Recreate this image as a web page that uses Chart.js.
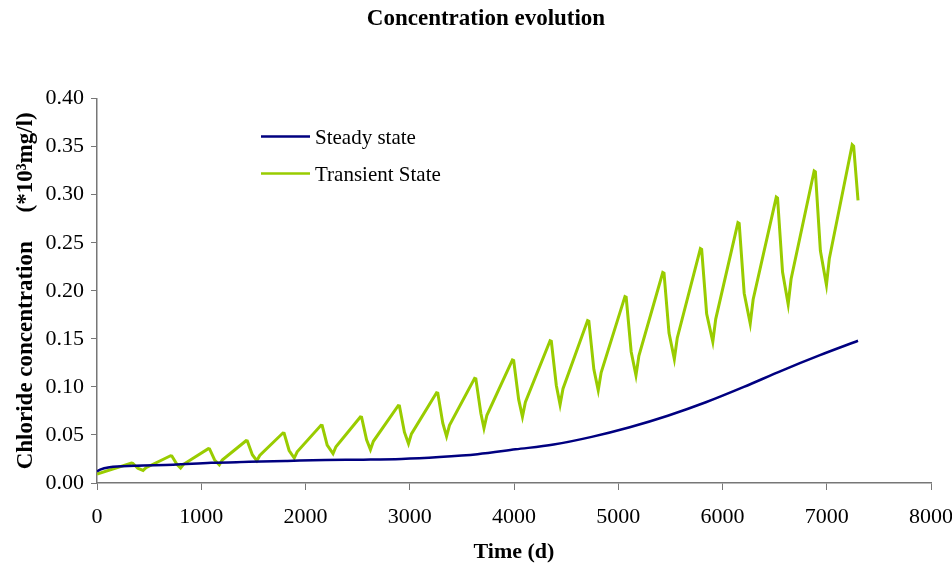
<!DOCTYPE html>
<html>
<head>
<meta charset="utf-8">
<script src="https://cdn.jsdelivr.net/npm/chart.js@4.4.0/dist/chart.umd.min.js"></script>
<style>
  html, body { margin: 0; padding: 0; background: #fff; }
  #wrap { width: 952px; height: 573px; }
</style>
</head>
<body>
<div id="wrap"><canvas id="myChart" width="952" height="573"></canvas></div>
<script>
/****************
--- DATA ---
*****************/

const seriesNames = ["Steady state", "Transient State"];
const xTicks = [0, 1000, 2000, 3000, 4000, 5000, 6000, 7000, 8000];
const yTicks = [0, 0.05, 0.1, 0.15, 0.2, 0.25, 0.3, 0.35, 0.4];

// steady state (day, value)
const steadyDays = [0, 30, 120, 365, 730, 1095, 1460, 1825, 2190, 2555, 2920, 3285, 3650, 4015, 4380, 4745, 5110, 5475, 5840, 6205, 6570, 6935, 7300];
const steadyVals = [0.012, 0.014, 0.0165, 0.018, 0.019, 0.021, 0.022, 0.023, 0.024, 0.0243, 0.025, 0.027, 0.030, 0.035, 0.040, 0.048, 0.058, 0.070, 0.084, 0.100, 0.117, 0.133, 0.148];

// transient state (day, value) - yearly cycles
const transientDays = [
  0, 331, 343, 391, 442, 470,
  706, 718, 766, 802, 830,
  1068, 1080, 1128, 1173, 1201,
  1430, 1442, 1490, 1533, 1561,
  1783, 1795, 1843, 1892, 1920,
  2148, 2160, 2208, 2264, 2292,
  2526, 2538, 2586, 2623, 2651,
  2889, 2901, 2949, 2988, 3016,
  3257, 3269, 3317, 3353, 3381,
  3622, 3634, 3682, 3712, 3740,
  3985, 3997, 4045, 4081, 4109,
  4346, 4358, 4406, 4442, 4470,
  4706, 4718, 4766, 4808, 4836,
  5064, 5076, 5124, 5170, 5198,
  5427, 5439, 5487, 5538, 5566,
  5788, 5800, 5848, 5907, 5935,
  6148, 6160, 6208, 6266, 6294,
  6516, 6528, 6576, 6630, 6658,
  6879, 6891, 6939, 6997, 7025,
  7244, 7258, 7300
];
const transientVals = [
  0.0094, 0.0208, 0.0205, 0.0154, 0.0131, 0.0160,
  0.0284, 0.0281, 0.0194, 0.0156, 0.0194,
  0.0357, 0.0354, 0.0240, 0.0190, 0.0238,
  0.0440, 0.0437, 0.0294, 0.0232, 0.0287,
  0.0520, 0.0517, 0.0338, 0.0260, 0.0325,
  0.0600, 0.0597, 0.0394, 0.0305, 0.0378,
  0.0687, 0.0684, 0.0449, 0.0347, 0.0434,
  0.0805, 0.0801, 0.0529, 0.0410, 0.0511,
  0.0940, 0.0936, 0.0622, 0.0486, 0.0601,
  0.1090, 0.1085, 0.0726, 0.0570, 0.0705,
  0.1280, 0.1275, 0.0867, 0.0690, 0.0840,
  0.1480, 0.1474, 0.1015, 0.0816, 0.0982,
  0.1690, 0.1684, 0.1183, 0.0965, 0.1150,
  0.1940, 0.1933, 0.1366, 0.1120, 0.1323,
  0.2190, 0.2183, 0.1560, 0.1290, 0.1509,
  0.2440, 0.2432, 0.1761, 0.1470, 0.1706,
  0.2710, 0.2702, 0.1975, 0.1660, 0.1910,
  0.2975, 0.2966, 0.2195, 0.1860, 0.2123,
  0.3246, 0.3237, 0.2416, 0.2060, 0.2337,
  0.3520, 0.3505, 0.2940
];

const colors = ["#000080", "#99cc00"];
const serif = "'Liberation Serif', 'Times New Roman', serif";

const toPoints = (xs, ys) => xs.map((x, i) => ({ x: x, y: ys[i] }));

/****************
--- LEGEND ---
*****************/

// legend drawn inside the plot, like the original
const innerLegend = {
  id: "innerLegend",
  afterDraw(chart) {
    const { ctx, chartArea } = chart;
    const x0 = chartArea.left + 164;
    const rows = [chartArea.top + 38, chartArea.top + 75];
    ctx.save();
    ctx.font = "21px " + serif;
    ctx.textBaseline = "middle";
    ctx.fillStyle = "#000";
    seriesNames.forEach((name, i) => {
      ctx.strokeStyle = colors[i];
      ctx.lineWidth = 2.5;
      ctx.beginPath();
      ctx.moveTo(x0, rows[i]);
      ctx.lineTo(x0 + 49, rows[i]);
      ctx.stroke();
      ctx.fillText(name, x0 + 54, rows[i] + 2);
    });
    ctx.restore();
  },
};

/****************
--- CHART ---
*****************/

const ctx = document.getElementById("myChart").getContext("2d");
const myChart = new Chart(ctx, {
  type: "line",
  data: {
    datasets: [
      {
        label: seriesNames[0],
        data: toPoints(steadyDays, steadyVals),
        borderColor: colors[0],
        borderWidth: 2.5,
        pointRadius: 0,
        tension: 0.4,
        cubicInterpolationMode: "monotone",
      },
      {
        label: seriesNames[1],
        data: toPoints(transientDays, transientVals),
        borderColor: colors[1],
        borderWidth: 3,
        pointRadius: 0,
        tension: 0,
      },
    ],
  },
  options: {
    responsive: false,
    animation: false,
    layout: { padding: { left: 20, right: 0, top: 0, bottom: 0 } },
    plugins: {
      legend: { display: false },
      tooltip: { enabled: false },
      title: {
        display: true,
        text: "Concentration evolution",
        color: "#000",
        font: { family: serif, size: 23, weight: "bold" },
        padding: { top: 5, bottom: 66 },
      },
    },
    scales: {
      x: {
        type: "linear",
        min: 0,
        max: 8000,
        afterBuildTicks: (scale) => {
          scale.ticks = xTicks.map((v) => ({ value: v }));
        },
        afterFit: (scale) => {
          scale.height = 90;
          scale.paddingRight = 21;
        },
        grid: { drawOnChartArea: false, drawTicks: true, tickLength: 7, color: "#777" },
        border: { color: "#777", width: 1.5 },
        ticks: {
          color: "#000",
          font: { family: serif, size: 22 },
          padding: 14,
          maxRotation: 0,
          callback: (v) => String(v),
        },
        title: {
          display: true,
          text: "Time (d)",
          color: "#000",
          font: { family: serif, size: 22, weight: "bold" },
          padding: { top: 6, bottom: 7 },
        },
      },
      y: {
        type: "linear",
        min: 0,
        max: 0.4,
        afterBuildTicks: (scale) => {
          scale.ticks = yTicks.map((v) => ({ value: v }));
        },
        afterFit: (scale) => {
          scale.width = 77;
        },
        grid: { drawOnChartArea: false, drawTicks: true, tickLength: 6, color: "#777" },
        border: { color: "#777", width: 1.5 },
        ticks: {
          color: "#000",
          font: { family: serif, size: 22 },
          padding: 7,
          callback: (v) => v.toFixed(2),
        },
        title: {
          display: true,
          text: "Chloride concentration     (*10³mg/l)",
          color: "#000",
          font: { family: serif, size: 23, weight: "bold" },
          padding: { top: -8, bottom: 0 },
        },
      },
    },
  },
  plugins: [innerLegend],
});
</script>
</body>
</html>
